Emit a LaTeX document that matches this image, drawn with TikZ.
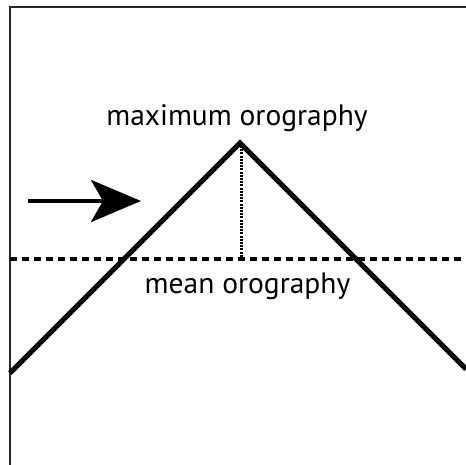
\documentclass[tikz,border=0pt]{standalone}
\usepackage{fontspec}
\setmainfont{PT Sans}
\usetikzlibrary{arrows.meta}

\begin{document}
\begin{tikzpicture}[x=1pt,y=-1pt,>={Stealth[length=50pt,width=42pt,inset=12pt]},
  label/.style={font=\fontsize{29.5}{34}\selectfont,anchor=base,inner sep=0pt}]
\useasboundingbox (0,0) rectangle (466,465);
% frame (open to the right and bottom)
\draw[line width=2.2pt,black!85] (10,465) -- (10,7) -- (466,7);
% the ridge
\coordinate (lfoot) at (10,373);
\coordinate (peak) at (240,143);
\coordinate (rfoot) at (466,369);
\draw[line width=5pt] (lfoot) -- (peak) -- (rfoot);
% mean level and height of the peak
\coordinate (meanl) at (10,259);
\coordinate (meanr) at (466,259);
\coordinate (base) at (241,259);
\draw[line width=4pt,dash pattern=on 7pt off 5pt] (meanl) -- (meanr);
\draw[line width=3pt,dash pattern=on 2pt off 1.2pt] (241,146) -- (base);
% flow
\coordinate (wind0) at (28,201);
\coordinate (wind1) at (141,201);
\draw[->,line width=4.5pt] (wind0) -- (wind1);
% labels
\node[label] (maxlab) at (237,126) {maximum orography};
\node[label] (meanlab) at (247.5,293) {mean orography};
\end{tikzpicture}
\end{document}
